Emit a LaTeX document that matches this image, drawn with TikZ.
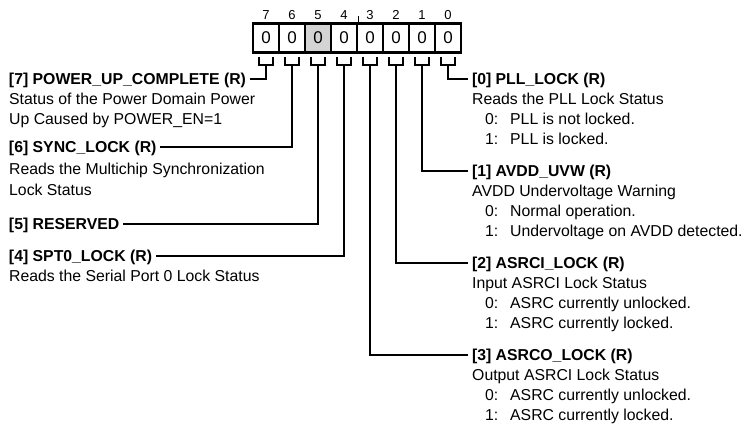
\documentclass[tikz,border=0pt]{standalone}
\usepackage{fontspec}
\setmainfont{Liberation Sans}
\usetikzlibrary{calc}
\definecolor{cellgray}{RGB}{212,212,212}
\begin{document}
\begin{tikzpicture}[x=1pt,y=-1pt,
  hdr/.style={inner sep=0pt, font=\fontsize{15.8}{20}\selectfont\bfseries, text height=11.3pt, text depth=0pt, outer xsep=4pt},
  desc/.style={inner sep=0pt, font=\fontsize{15.8}{20}\selectfont, anchor=base west},
  cell/.style={draw, line width=2.5pt, minimum width=26pt, minimum height=29pt, inner sep=0pt, font=\fontsize{17}{18}\selectfont},
  bitnum/.style={inner sep=0pt, font=\fontsize{13}{15}\selectfont},
  conn/.style={line width=2.2pt},
  brk/.style={line width=2.2pt},
]
\useasboundingbox (0,0) rectangle (746,426);

% register cells and bit numbers
\foreach \k/\f in {7/white,6/white,5/cellgray,4/white,3/white,2/white,1/white,0/white} {
  \node[cell, fill=\f] (c\k) at ({448-26*\k},38) {0};
  \node[bitnum] (n\k) at ({448-26*\k},15) {\k};
  \coordinate (b\k) at ($(c\k.south)+(0,11)$);
  \draw[brk] ($(c\k.south)+(-7,3)$) |- (b\k) -| ($(c\k.south)+(7,3)$);
}
\draw[line width=1.5pt] (c4.north east) -- ++(0,-6);

% left headers
\node[hdr, anchor=west] (h7) at (5,79) {[7] POWER\_UP\_COMPLETE (R)};
\node[desc] (d7a) at (9,104.65) {Status of the Power Domain Power};
\node[desc] (d7b) at (9,124.65) {Up Caused by POWER\_EN=1};

\node[hdr, anchor=west] (h6) at (5,147) {[6] SYNC\_LOCK (R)};
\node[desc] (d6a) at (9,174.65) {Reads the Multichip Synchronization};
\node[desc] (d6b) at (9,195.65) {Lock Status};

\node[hdr, anchor=west] (h5) at (5,224) {[5] RESERVED};

\node[hdr, anchor=west] (h4) at (5,256) {[4] SPT0\_LOCK (R)};
\node[desc] (d4a) at (9,281.65) {Reads the Serial Port 0 Lock Status};

% right headers
\node[hdr, anchor=west] (h0) at (468,79) {[0] PLL\_LOCK (R)};
\node[desc] (d0a) at (472,104.65) {Reads the PLL Lock Status};
\node[desc] (d0b) at (485,124.65) {\makebox[25pt][l]{0:}PLL is not locked.};
\node[desc] (d0c) at (485,144.65) {\makebox[25pt][l]{1:}PLL is locked.};

\node[hdr, anchor=west] (h1) at (468,171) {[1] AVDD\_UVW (R)};
\node[desc] (d1a) at (472,196.65) {AVDD Undervoltage Warning};
\node[desc] (d1b) at (485,216.65) {\makebox[25pt][l]{0:}Normal operation.};
\node[desc] (d1c) at (485,236.65) {\makebox[25pt][l]{1:}Undervoltage on AVDD detected.};

\node[hdr, anchor=west] (h2) at (468,263) {[2] ASRCI\_LOCK (R)};
\node[desc] (d2a) at (472,288.65) {Input ASRCI Lock Status};
\node[desc] (d2b) at (485,308.65) {\makebox[25pt][l]{0:}ASRC currently unlocked.};
\node[desc] (d2c) at (485,328.65) {\makebox[25pt][l]{1:}ASRC currently locked.};

\node[hdr, anchor=west] (h3) at (468,355) {[3] ASRCO\_LOCK (R)};
\node[desc] (d3a) at (472,380.65) {Output ASRCI Lock Status};
\node[desc] (d3b) at (485,400.65) {\makebox[25pt][l]{0:}ASRC currently unlocked.};
\node[desc] (d3c) at (485,420.65) {\makebox[25pt][l]{1:}ASRC currently locked.};

% connectors
\draw[conn] (b7) |- (h7.east);
\draw[conn] (b6) |- (h6.east);
\draw[conn] (b5) |- (h5.east);
\draw[conn] (b4) |- (h4.east);
\draw[conn] (b3) |- (h3.west);
\draw[conn] (b2) |- (h2.west);
\draw[conn] (b1) |- (h1.west);
\draw[conn] (b0) |- (h0.west);
\end{tikzpicture}
\end{document}
